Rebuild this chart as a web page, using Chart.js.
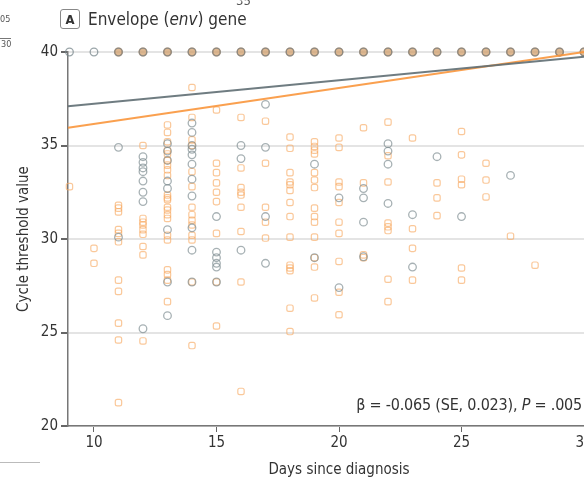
<!DOCTYPE html>
<html>
<head>
<meta charset="utf-8">
<script src="https://cdn.jsdelivr.net/npm/chart.js@4/dist/chart.umd.min.js"></script>
<style>
  body { margin: 0; width: 584px; height: 479px; overflow: hidden; background: #fff; position: relative;
         font-family: 'Liberation Sans Narrow', 'DejaVu Sans Condensed', 'Noto Sans', sans-serif; color: #333; }
  #wrap { position: absolute; left: 0; top: 0; width: 620px; height: 479px; }
  .panel { position: absolute; left: 60px; top: 8px; height: 22px; display: flex; align-items: center; }
  .panel .box { width: 18px; height: 18px; border: 1.5px solid #888; border-radius: 3px; font-weight: bold;
                font-size: 13px; display: flex; align-items: center; justify-content: center; color: #333; }
  .panel .name { margin-left: 8px; font-size: 17px; color: #333; }
  .note { position: absolute; right: 2px; top: 395px; font-size: 16px; color: #333; white-space: nowrap; letter-spacing: -0.2px; }
  .stray { position: absolute; font-size: 9px; color: #555; }
  .strayline { position: absolute; left: 0; top: 462px; width: 40px; height: 1px; background: #bbb; }
</style>
</head>
<body>
<div id="wrap"><canvas id="ctChart"></canvas></div>
<div class="panel"><div class="box">A</div><div class="name">Envelope (<i>env</i>) gene</div></div>
<div class="note">β = -0.065 (SE, 0.023), <i>P</i> = .005</div>
<div class="stray" style="left:0;top:14px">05</div>
<div class="stray" style="left:0;top:38px;border-top:1px solid #777;padding-left:1px">30</div>
<div class="stray" style="left:236px;top:-7px;font-size:13px">35</div>
<div class="strayline"></div>
<script>
// axis ticks
const xTicks = [10, 15, 20, 25, 30];
const yTicks = [20, 25, 30, 35, 40];
const xMin = 8.94, xMax = 31.06;

// samples not detected (Ct = 40)
const grayUndetected = [[9, 40], [10, 40], [11, 40], [12, 40], [13, 40], [14, 40], [15, 40], [16, 40], [17, 40], [18, 40], [19, 40],
  [20, 40], [21, 40], [22, 40], [23, 40], [24, 40], [25, 40], [26, 40], [27, 40], [28, 40], [29, 40], [30, 40]];
const orangeUndetected = [[11, 40], [12, 40], [13, 40], [14, 40], [15, 40], [16, 40], [17, 40], [18, 40], [19, 40],
  [20, 40], [21, 40], [22, 40], [23, 40], [24, 40], [25, 40], [26, 40], [27, 40], [28, 40], [29, 40], [30, 40]];

// gray circles
const grayPoints = [
  [11, 34.9], [11, 30.1],
  [12, 34.4], [12, 34.1], [12, 33.8], [12, 33.6], [12, 33.1], [12, 32.5], [12, 32.0], [12, 25.2],
  [13, 35.1], [13, 34.7], [13, 34.2], [13, 33.1], [13, 32.7], [13, 30.5], [13, 27.7], [13, 25.9],
  [14, 36.2], [14, 35.7], [14, 35.0], [14, 34.8], [14, 34.5], [14, 34.0], [14, 33.2], [14, 32.3], [14, 30.6], [14, 29.4], [14, 27.7],
  [15, 31.2], [15, 29.3], [15, 29.0], [15, 28.7], [15, 28.5], [15, 27.7],
  [16, 35.0], [16, 34.3], [16, 29.4],
  [17, 37.2], [17, 34.9], [17, 31.2], [17, 28.7],
  [19, 34.0], [19, 29.0],
  [20, 32.2], [20, 27.4],
  [21, 32.7], [21, 32.2], [21, 30.9], [21, 29.05],
  [22, 35.1], [22, 34.7], [22, 34.0], [22, 31.9],
  [23, 31.3], [23, 28.5],
  [24, 34.4],
  [25, 31.2],
  [27, 33.4]
];

// orange squares
const orangePoints = [
  [9, 32.8],
  [10, 29.5], [10, 28.7],
  [11, 31.8], [11, 31.65], [11, 31.45], [11, 30.5], [11, 30.3], [11, 29.85], [11, 27.8], [11, 27.2], [11, 25.5], [11, 24.6], [11, 21.25],
  [12, 35.0], [12, 31.1], [12, 30.9], [12, 30.75], [12, 30.5], [12, 30.25], [12, 29.6], [12, 29.15], [12, 24.55],
  [13, 36.1], [13, 35.7], [13, 35.2], [13, 34.75], [13, 34.55], [13, 34.2], [13, 33.95], [13, 33.7], [13, 33.4], [13, 32.35],
  [13, 32.2], [13, 32.1], [13, 31.7], [13, 31.55], [13, 31.3], [13, 31.1], [13, 30.2], [13, 29.95], [13, 28.35], [13, 28.1],
  [13, 27.8], [13, 26.65],
  [14, 38.1], [14, 36.5], [14, 35.3], [14, 35.0], [14, 33.6], [14, 32.8], [14, 31.7], [14, 31.3], [14, 31.0], [14, 30.75],
  [14, 30.2], [14, 29.95], [14, 27.7], [14, 24.3],
  [15, 36.9], [15, 34.05], [15, 33.55], [15, 33.0], [15, 32.5], [15, 32.0], [15, 30.3], [15, 27.7], [15, 25.35],
  [16, 36.5], [16, 33.8], [16, 32.75], [16, 32.5], [16, 32.35], [16, 31.7], [16, 30.4], [16, 27.7], [16, 21.85],
  [17, 36.3], [17, 34.05], [17, 31.7], [17, 30.9], [17, 30.05],
  [18, 35.45], [18, 34.85], [18, 33.55], [18, 33.05], [18, 32.9], [18, 32.6], [18, 31.95], [18, 31.2], [18, 30.1],
  [18, 28.6], [18, 28.45], [18, 28.3], [18, 26.3], [18, 25.05],
  [19, 35.2], [19, 34.95], [19, 34.75], [19, 34.55], [19, 33.55], [19, 33.15], [19, 32.75], [19, 31.65], [19, 31.2],
  [19, 30.9], [19, 30.1], [19, 29.0], [19, 28.5], [19, 26.85],
  [20, 35.4], [20, 34.9], [20, 33.05], [20, 32.8], [20, 31.95], [20, 30.9], [20, 30.3], [20, 28.8], [20, 27.15], [20, 25.95],
  [21, 35.95], [21, 33.0], [21, 29.15], [21, 29.0],
  [22, 36.25], [22, 34.45], [22, 33.05], [22, 30.85], [22, 30.65], [22, 30.45], [22, 27.85], [22, 26.65],
  [23, 35.4], [23, 30.55], [23, 29.5], [23, 27.8],
  [24, 33.0], [24, 32.2], [24, 31.25],
  [25, 35.75], [25, 34.5], [25, 33.2], [25, 32.9], [25, 28.45], [25, 27.8],
  [26, 34.05], [26, 33.15], [26, 32.25],
  [27, 30.15],
  [28, 28.6]
];

// fitted lines
const grayFit = [[xMin, 37.1], [30, 39.75]];
const orangeFit = [[xMin, 35.95], [30, 40.0]];

const toXY = arr => arr.map(p => ({ x: p[0], y: p[1] }));
const fontFamily = "'Liberation Sans Narrow', 'DejaVu Sans Condensed', 'Noto Sans', sans-serif";

new Chart(document.getElementById("ctChart"), {
  type: "scatter",
  data: {
    datasets: [
      { type: "line", data: toXY(grayFit), borderColor: "rgba(95,110,115,0.9)", borderWidth: 2, pointRadius: 0, clip: false },
      { type: "line", data: toXY(orangeFit), borderColor: "rgba(250,150,60,0.9)", borderWidth: 2, pointRadius: 0, clip: false },
      { data: toXY(grayUndetected), pointStyle: "circle", pointRadius: 3.8, borderWidth: 1.3,
        borderColor: "rgba(120,135,140,0.75)", backgroundColor: "rgba(255,255,255,0)", clip: false },
      { data: toXY(grayPoints), pointStyle: "circle", pointRadius: 3.8, borderWidth: 1.3,
        borderColor: "rgba(120,135,140,0.65)", backgroundColor: "rgba(255,255,255,0)", clip: false },
      { data: toXY(orangePoints), pointStyle: "rectRounded", pointRadius: 3.7, borderWidth: 1.2,
        borderColor: "rgba(248,170,100,0.65)", backgroundColor: "rgba(255,255,255,0)", clip: false },
      { data: toXY(orangeUndetected), pointStyle: "circle", pointRadius: 3.8, borderWidth: 1.3,
        borderColor: "rgba(190,130,80,0.8)", backgroundColor: "rgba(210,160,110,0.75)", clip: false }
    ]
  },
  options: {
    responsive: true,
    maintainAspectRatio: false,
    animation: false,
    layout: { padding: { top: 52, right: 10, left: 0, bottom: 0 } },
    plugins: { legend: { display: false }, tooltip: { enabled: false } },
    scales: {
      x: {
        type: "linear", min: xMin, max: xMax,
        afterBuildTicks: s => { s.ticks = xTicks.map(v => ({ value: v })); },
        afterFit: s => { s.height = 53; },
        grid: { drawOnChartArea: false, tickLength: 6, tickColor: "#666" },
        border: { color: "#777", width: 1.5 },
        ticks: { color: "#333", padding: 2, font: { size: 15, family: fontFamily } },
        title: { display: true, text: "Days since diagnosis", color: "#333", padding: { top: 3, bottom: 0 },
                 font: { size: 15, family: fontFamily } }
      },
      y: {
        min: 20, max: 40,
        afterBuildTicks: s => { s.ticks = yTicks.map(v => ({ value: v })); },
        afterFit: s => { s.width = 68; },
        grid: { color: "#e4e4e4", lineWidth: 2, tickLength: 7, tickColor: "#666" },
        border: { color: "#777", width: 1.5 },
        ticks: { color: "#333", padding: 3, font: { size: 15, family: fontFamily } },
        title: { display: true, text: "Cycle threshold value", color: "#333", padding: { top: 15, bottom: 0 },
                 font: { size: 15, family: fontFamily } }
      }
    }
  }
});
</script>
</body>
</html>
